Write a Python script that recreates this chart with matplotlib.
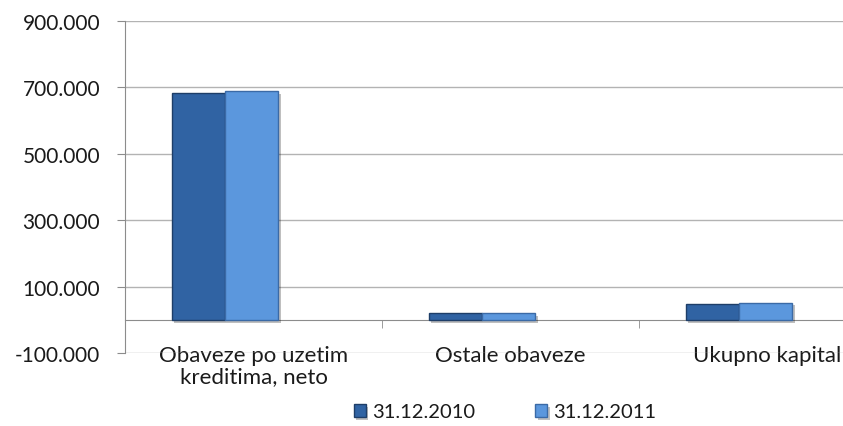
import numpy as np
import matplotlib
matplotlib.use("Agg")
import matplotlib.pyplot as plt
import matplotlib.patheffects as pe
from matplotlib.ticker import FuncFormatter, FixedLocator

plt.rcParams['font.family'] = ['Lato', 'DejaVu Sans']

# data (values in currency units, shown with dot thousands separator)
categories = ["Obaveze po uzetim\nkreditima, neto", "Ostale obaveze", "Ukupno kapital"]
series_names = ["31.12.2010", "31.12.2011"]
vals_2010 = [684000, 19000, 47000]
vals_2011 = [689000, 21000, 52000]
yticks = [-100000, 100000, 300000, 500000, 700000, 900000]

fig = plt.figure(figsize=(8.43, 4.27), dpi=100)
ax = fig.add_axes([125/843, 73/427, 718/843, 332/427])

x = np.arange(len(categories))
w = 0.208
shift = -0.111
shadow = [pe.SimplePatchShadow(offset=(2, -2), shadow_rgbFace='#000000', alpha=0.25), pe.Normal()]

b1 = ax.bar(x + shift - w/2, vals_2010, w, color='#3063a3', edgecolor='#1e3e68', lw=1.0,
            label=series_names[0], zorder=3)
b2 = ax.bar(x + shift + w/2, vals_2011, w, color='#5b97dd', edgecolor='#3b6aa6', lw=1.0,
            label=series_names[1], zorder=3)
for b in list(b1) + list(b2):
    b.set_path_effects(shadow)

ax.set_ylim(-100000, 900000)
ax.set_xlim(-0.5, 2.5 - 53/257)
ax.yaxis.set_major_locator(FixedLocator(yticks))
ax.yaxis.set_major_formatter(FuncFormatter(lambda v, p: f"{int(v):,}".replace(',', '.')))
ax.grid(axis='y', color='#b3b3b3', lw=1.0, zorder=0)

for s in ['top', 'right']:
    ax.spines[s].set_visible(False)
ax.spines['left'].set_color('#8c8c8c')
ax.spines['bottom'].set_position(('data', 0))
ax.spines['bottom'].set_color('#8c8c8c')

ax.set_xticks(x)
ax.set_xticklabels(categories, fontsize=16, color='#1a1a1a', linespacing=1.05)
ax.set_xticks([0.5, 1.5], minor=True)
ax.tick_params(axis='x', which='major', length=0, pad=18)
ax.tick_params(axis='x', which='minor', length=6, color='#8c8c8c', direction='out')
ax.tick_params(axis='y', length=6, color='#8c8c8c', labelsize=15, labelcolor='#1a1a1a', pad=12)

fig.legend(handles=[b1, b2], labels=series_names, loc='center', ncol=2,
           bbox_to_anchor=(505/843, 14/427), frameon=False, fontsize=14.5,
           handlelength=0.6, handleheight=0.6, handletextpad=0.3, columnspacing=3.0,
           labelcolor='#1a1a1a')

fig.savefig("out.png", dpi=100)
